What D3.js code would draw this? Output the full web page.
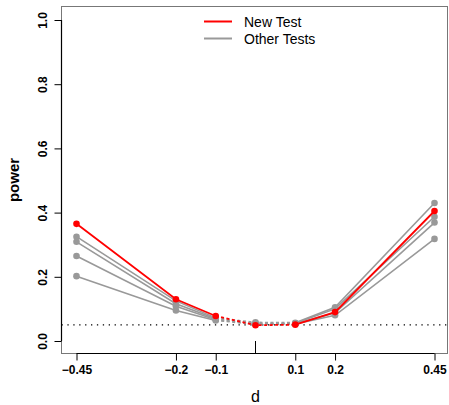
<!DOCTYPE html>
<html>
<head>
<meta charset="utf-8">
<script src="https://cdn.jsdelivr.net/npm/d3@7"></script>
<style>
  body { margin: 0; background: #fff; }
  text { font-family: "Liberation Sans", Arial, sans-serif; }
</style>
</head>
<body>
<div id="chart"></div>
<script>
// power curves, new test vs others

var dValues = [-0.45, -0.2, -0.1, 0, 0.1, 0.2, 0.45];
var xTickLabels = ["\u22120.45", "\u22120.2", "\u22120.1", "0.1", "0.2", "0.45"];
var xTickValues = [-0.45, -0.2, -0.1, 0.1, 0.2, 0.45];
var yTickValues = [0, 0.2, 0.4, 0.6, 0.8, 1.0];
var alpha = 0.05;

var newTest = [0.365, 0.130, 0.078, 0.049, 0.051, 0.090, 0.405];
var other1 = [0.325, 0.125, 0.072, 0.058, 0.057, 0.105, 0.430];
var other2 = [0.309, 0.116, 0.069, 0.055, 0.055, 0.100, 0.387];
var other3 = [0.265, 0.108, 0.066, 0.053, 0.054, 0.088, 0.369];
var other4 = [0.202, 0.095, 0.064, 0.052, 0.053, 0.080, 0.318];
var otherTests = [other1, other2, other3, other4];

var width = 449, height = 405;
var box = {left: 61.5, top: 6.5, right: 447.5, bottom: 353.5};

var x = d3.scaleLinear().domain([-0.45, 0.45]).range([76.5, 434.5]);
var y = d3.scaleLinear().domain([0, 1]).range([341, 20]);

var svg = d3.select("#chart").append("svg")
    .attr("width", width)
    .attr("height", height);

// box
svg.append("rect")
    .attr("x", box.left).attr("y", box.top)
    .attr("width", box.right - box.left).attr("height", box.bottom - box.top)
    .attr("fill", "none").attr("stroke", "#777").attr("stroke-width", 1);

// alpha line
svg.append("line")
    .attr("x1", box.left).attr("x2", box.right)
    .attr("y1", y(alpha)).attr("y2", y(alpha))
    .attr("stroke", "#000").attr("stroke-width", 1.2)
    .attr("stroke-dasharray", "1.3,4.6");

// mark at d = 0
svg.append("line")
    .attr("x1", x(0)).attr("x2", x(0))
    .attr("y1", y(0)).attr("y2", box.bottom)
    .attr("stroke", "#000").attr("stroke-width", 1);

// axes
var xAxis = d3.axisBottom(x).tickValues(xTickValues)
    .tickFormat(function (d, i) { return xTickLabels[i]; })
    .tickSize(7).tickPadding(5);
var gx = svg.append("g").attr("transform", "translate(0," + box.bottom + ")").call(xAxis);
gx.select(".domain").attr("d", "M" + x(-0.45) + ",0H" + x(0.45)).attr("stroke-width", 1.2);
gx.selectAll("text").attr("font-size", 12).attr("font-weight", "bold")
    .attr("font-family", "Liberation Sans, Arial, sans-serif").attr("fill", "#000");

var yAxis = d3.axisLeft(y).tickValues(yTickValues)
    .tickFormat(d3.format(".1f")).tickSize(7).tickPadding(0);
var gy = svg.append("g").attr("transform", "translate(" + box.left + ",0)").call(yAxis);
gy.select(".domain").attr("d", "M0," + y(0) + "V" + y(1)).attr("stroke-width", 1.2);
gy.selectAll("text")
    .attr("font-size", 12).attr("font-weight", "bold")
    .attr("font-family", "Liberation Sans, Arial, sans-serif").attr("fill", "#000")
    .attr("x", 0).attr("y", 0).attr("dy", null)
    .attr("text-anchor", "middle")
    .attr("transform", "translate(-15,0) rotate(-90)");

// axis titles
svg.append("text")
    .attr("x", x(0)).attr("y", 402)
    .attr("text-anchor", "middle")
    .attr("font-size", 16)
    .text("d");

svg.append("text")
    .attr("transform", "translate(19," + (box.top + box.bottom) / 2 + ") rotate(-90)")
    .attr("text-anchor", "middle")
    .attr("font-size", 15).attr("font-weight", "bold")
    .text("power");

// series drawing
function drawSeries(vals, color, lw) {
  var pts = vals.map(function (v, i) { return [dValues[i], v]; });
  var line = d3.line().x(function (p) { return x(p[0]); }).y(function (p) { return y(p[1]); });
  var g = svg.append("g");
  g.append("path").datum(pts.slice(0, 3)).attr("d", line)
    .attr("fill", "none").attr("stroke", color).attr("stroke-width", lw);
  g.append("path").datum(pts.slice(2, 5)).attr("d", line)
    .attr("fill", "none").attr("stroke", color).attr("stroke-width", lw)
    .attr("stroke-dasharray", "3,2.5");
  g.append("path").datum(pts.slice(4)).attr("d", line)
    .attr("fill", "none").attr("stroke", color).attr("stroke-width", lw);
  g.selectAll("circle").data(pts).enter().append("circle")
    .attr("cx", function (p) { return x(p[0]); })
    .attr("cy", function (p) { return y(p[1]); })
    .attr("r", 3.3)
    .attr("fill", color);
}

otherTests.forEach(function (s) { drawSeries(s, "#999999", 1.6); });
drawSeries(newTest, "#ff0000", 1.8);

// legend
var legendItems = [["New Test", "#ff0000"], ["Other Tests", "#999999"]];
var lg = svg.append("g");
legendItems.forEach(function (it, i) {
  var ly = 21.5 + i * 17;
  lg.append("line").attr("x1", 204).attr("x2", 232).attr("y1", ly).attr("y2", ly)
    .attr("stroke", it[1]).attr("stroke-width", 2);
  lg.append("text").attr("x", 244).attr("y", ly + 5)
    .attr("font-size", 14).text(it[0]);
});
</script>
</body>
</html>
